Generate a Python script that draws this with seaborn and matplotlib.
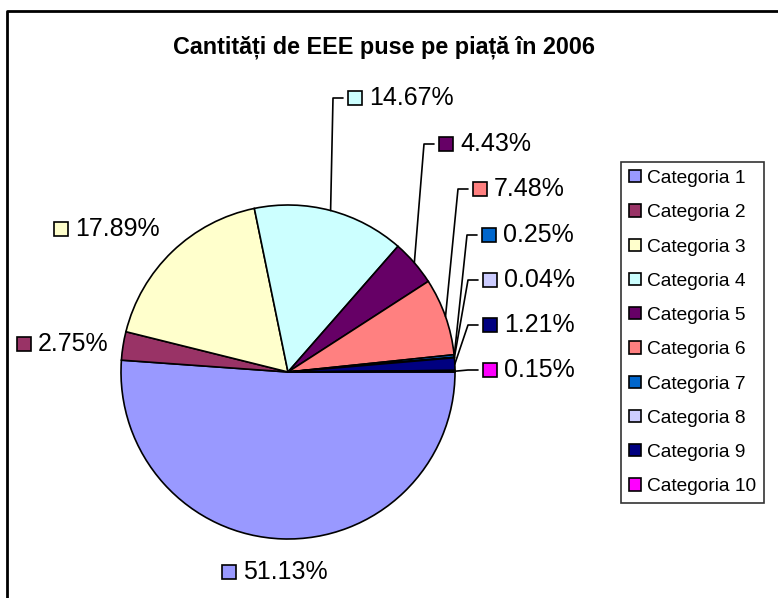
import numpy as np
import seaborn as sns
import matplotlib.pyplot as plt
from matplotlib.patches import Rectangle, Patch

# data
categories = ["Categoria %d" % i for i in range(1, 11)]
shares = [51.13, 2.75, 17.89, 14.67, 4.43, 7.48, 0.25, 0.04, 1.21, 0.15]
colors = ["#9999FF", "#993366", "#FFFFCC", "#CCFFFF", "#660066",
          "#FF8080", "#0066CC", "#CCCCFF", "#000080", "#FF00FF"]
title = "Cantități de EEE puse pe piață în 2006"

# layout (image pixels): left edge of label key square, label centre y
label_pos = [(222, 572), (17, 344), (54, 229), (348, 98), (439, 144),
             (473, 189), (482, 235), (483, 280), (483, 325), (483, 370)]
has_leader = [False, False, False, True, True, True, True, True, True, True]

W, H = 778, 598
sns.set_theme(style="white")
plt.rcParams["font.family"] = ["Liberation Sans", "DejaVu Sans"]
plt.rcParams["text.color"] = "black"

fig = plt.figure(figsize=(W / 100, H / 100), dpi=100)
ax = fig.add_axes([0, 0, 1, 1])

cx, cy, r = 288, H - 372, 167

pal = sns.color_palette(colors)
wedges, _ = ax.pie(shares, colors=pal, startangle=0, counterclock=False,
                   center=(cx, cy), radius=r, frame=True,
                   wedgeprops=dict(edgecolor="black", linewidth=1.2))
ax.set_xlim(0, W)
ax.set_ylim(0, H)
ax.set_aspect("equal")
ax.axis("off")

# data labels with key squares and leader lines
sq = 14
for w, val, col, (lx, ly), lead in zip(wedges, shares, pal, label_pos, has_leader):
    y = H - ly
    if lead:
        ang = np.deg2rad((w.theta1 + w.theta2) / 2)
        ex, ey = cx + r * np.cos(ang), cy + r * np.sin(ang)
        ax.plot([ex, lx - 15, lx - 5], [ey, y, y], color="black", lw=1.2)
    ax.add_patch(Rectangle((lx, y - sq / 2), sq, sq, facecolor=col,
                           edgecolor="black", lw=1.2))
    ax.text(lx + sq + 7, y, "%.2f%%" % val, fontsize=18, va="center", ha="left")

# chart frame (right and bottom cut off in the original)
ax.plot([7, 7, W], [0, H - 11, H - 11], color="black", lw=2, solid_capstyle="butt")

fig.text(384 / W, 1 - 47 / H, title, fontsize=16.8, fontweight="bold",
         ha="center", va="center")

handles = [Patch(facecolor=c, edgecolor="black", lw=1.2) for c in pal]
leg = ax.legend(handles, categories, loc="upper left",
                bbox_to_anchor=(621 / W, 1 - 162 / H), bbox_transform=fig.transFigure,
                fontsize=13.8, frameon=True, fancybox=False, borderaxespad=0,
                handlelength=0.6, handleheight=0.6, handletextpad=0.35,
                labelspacing=0.9, borderpad=0.42)
leg.get_frame().set_edgecolor("black")
leg.get_frame().set_linewidth(1.2)
for t in leg.get_texts():
    t.set_color("black")

fig.savefig("out.png", dpi=100, facecolor="white")
